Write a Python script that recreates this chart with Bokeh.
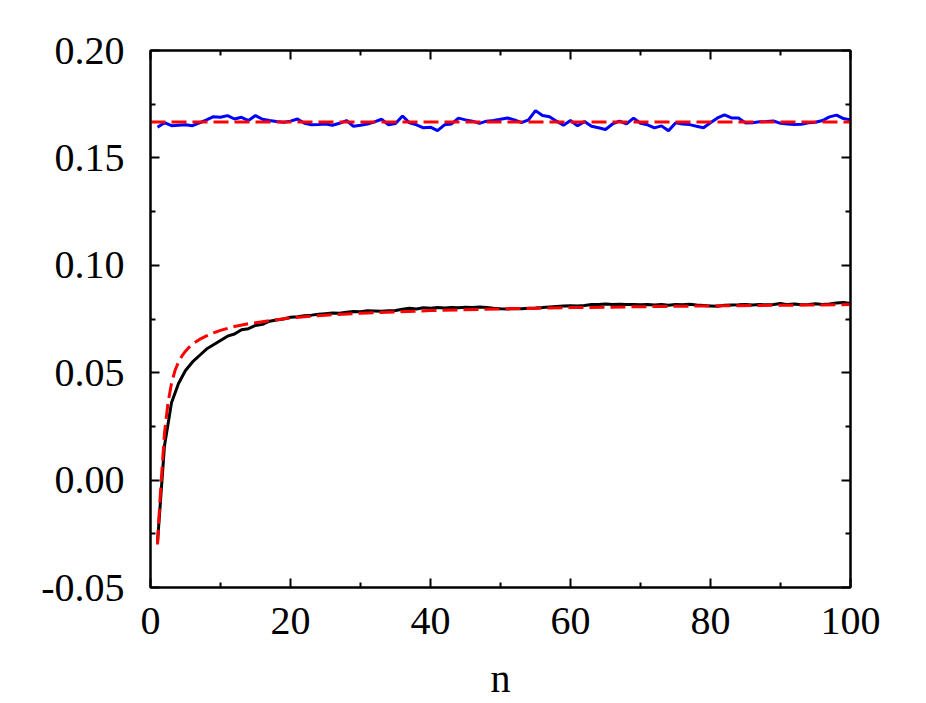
import numpy as np
from bokeh.plotting import figure
from bokeh.models import (LinearAxis, FixedTicker, PrintfTickFormatter,
                          CustomJSTickFormatter, Range1d)
from bokeh.embed import file_html
from bokeh.resources import INLINE

# ---------------- data ----------------
n = list(range(1, 101))

blue = [0.1643, 0.1664, 0.1650, 0.1652, 0.1654, 0.1650, 0.1663, 0.1677, 0.1692, 0.1689,
        0.1697, 0.1681, 0.1689, 0.1674, 0.1697, 0.1680, 0.1674, 0.1669, 0.1666, 0.1671,
        0.1681, 0.1661, 0.1654, 0.1655, 0.1658, 0.1652, 0.1661, 0.1674, 0.1647, 0.1652,
        0.1658, 0.1668, 0.1680, 0.1654, 0.1660, 0.1695, 0.1663, 0.1654, 0.1640, 0.1643,
        0.1627, 0.1654, 0.1658, 0.1685, 0.1677, 0.1671, 0.1661, 0.1671, 0.1674, 0.1680,
        0.1686, 0.1677, 0.1664, 0.1677, 0.1720, 0.1697, 0.1692, 0.1671, 0.1652, 0.1674,
        0.1650, 0.1669, 0.1647, 0.1640, 0.1632, 0.1658, 0.1671, 0.1658, 0.1685, 0.1661,
        0.1654, 0.1640, 0.1649, 0.1626, 0.1663, 0.1658, 0.1655, 0.1647, 0.1640, 0.1664,
        0.1686, 0.1700, 0.1686, 0.1686, 0.1663, 0.1664, 0.1668, 0.1669, 0.1672, 0.1661,
        0.1658, 0.1655, 0.1657, 0.1664, 0.1666, 0.1674, 0.1691, 0.1699, 0.1683, 0.1677]

black = [-0.0290, 0.0160, 0.0360, 0.0450, 0.0510, 0.0550, 0.0580, 0.0610, 0.0630, 0.0650,
         0.0670, 0.0680, 0.0700, 0.0705, 0.0720, 0.0725, 0.0740, 0.0745, 0.0750, 0.0758,
         0.0760, 0.0765, 0.0768, 0.0772, 0.0775, 0.0778, 0.0777, 0.0782, 0.0785, 0.0784,
         0.0788, 0.0787, 0.0786, 0.0788, 0.0790, 0.0795, 0.0800, 0.0797, 0.0802, 0.0800,
         0.0803, 0.0801, 0.0804, 0.0802, 0.0805, 0.0804, 0.0806, 0.0803, 0.0800, 0.0798,
         0.0797, 0.0799, 0.0798, 0.0800, 0.0801, 0.0803, 0.0806, 0.0808, 0.0810, 0.0812,
         0.0811, 0.0813, 0.0817, 0.0818, 0.0820, 0.0818, 0.0819, 0.0817, 0.0818, 0.0816,
         0.0818, 0.0815, 0.0817, 0.0814, 0.0818, 0.0816, 0.0819, 0.0815, 0.0813, 0.0811,
         0.0809, 0.0814, 0.0815, 0.0816, 0.0818, 0.0815, 0.0817, 0.0816, 0.0818, 0.0822,
         0.0817, 0.0820, 0.0816, 0.0818, 0.0821, 0.0818, 0.0820, 0.0825, 0.0827, 0.0822]

fit_blue_n = [0, 100]
fit_blue_v = [0.1667, 0.1667]

fit_black_n = [1, 1.3, 1.6, 2, 2.5, 3, 3.5, 4, 4.5, 5, 5.5, 6, 7, 8, 9, 10, 12, 14, 17,
               20, 25, 30, 40, 50, 60, 70, 80, 90, 100]
fit_black_v = [-0.030, -0.012, 0.003, 0.022, 0.036, 0.045, 0.051, 0.0550, 0.0578, 0.0600,
               0.0618, 0.0633, 0.0655, 0.0671, 0.0685, 0.0697, 0.0715, 0.0728, 0.0742,
               0.0755, 0.0768, 0.0777, 0.0789, 0.0797, 0.0803, 0.0807, 0.0811, 0.0814,
               0.0817]

x_ticks = [0, 20, 40, 60, 80, 100]
x_minor = [10, 30, 50, 70, 90]
y_ticks = [-0.05, 0.0, 0.05, 0.10, 0.15, 0.20]
y_minor = [-0.025, 0.025, 0.075, 0.125, 0.175]

# ---------------- figure ----------------
FONT = "Liberation Serif"
p = figure(width=918, height=703, output_backend="svg", toolbar_location=None,
           x_range=Range1d(0, 100), y_range=Range1d(-0.05, 0.20),
           x_axis_label="n", min_border_left=150, min_border_right=68,
           min_border_top=50, min_border_bottom=116)
p.xgrid.visible = False
p.ygrid.visible = False
p.outline_line_color = "black"
p.outline_line_width = 2
p.background_fill_color = "white"
p.border_fill_color = "white"

p.line(n, blue, line_color="#0000ff", line_width=3)
p.line(n, black, line_color="black", line_width=3)
p.line(fit_blue_n, fit_blue_v, line_color="#ff0000", line_width=3, line_dash="15 6")
p.line(fit_black_n, fit_black_v, line_color="#ff0000", line_width=3, line_dash="15 6")

def style(ax):
    ax.axis_line_width = 2
    ax.major_tick_in = 9
    ax.major_tick_out = 0
    ax.minor_tick_in = 5
    ax.minor_tick_out = 0
    ax.major_tick_line_width = 2
    ax.minor_tick_line_width = 2
    ax.major_label_text_font = FONT
    ax.major_label_text_font_size = "40px"
    ax.major_label_text_color = "black"
    ax.axis_label_text_font = FONT
    ax.axis_label_text_font_size = "40px"
    ax.axis_label_text_font_style = "normal"
    ax.axis_label_text_color = "black"

xa = p.xaxis[0]
xa.ticker = FixedTicker(ticks=x_ticks, minor_ticks=x_minor)
style(xa)
xa.major_label_standoff = 20
xa.axis_label_standoff = 19

ya = p.yaxis[0]
ya.ticker = FixedTicker(ticks=y_ticks, minor_ticks=y_minor)
ya.formatter = PrintfTickFormatter(format="%.2f")
style(ya)
ya.major_label_standoff = 26

blank = CustomJSTickFormatter(code="return ''")
top = LinearAxis(ticker=FixedTicker(ticks=x_ticks, minor_ticks=x_minor), formatter=blank)
style(top)
top.major_label_text_font_size = "0px"
top.major_label_standoff = 0
p.add_layout(top, "above")

right = LinearAxis(ticker=FixedTicker(ticks=y_ticks, minor_ticks=y_minor), formatter=blank)
style(right)
right.major_label_text_font_size = "0px"
right.major_label_standoff = 0
p.add_layout(right, "right")

open("out.html", "w").write(file_html(p, INLINE))
